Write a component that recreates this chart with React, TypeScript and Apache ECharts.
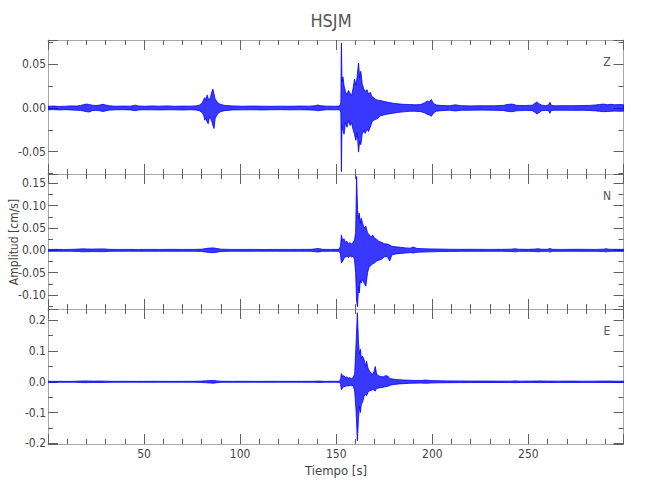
import React, { useEffect, useRef } from "react";
import * as echarts from "echarts";

// ---------- data ----------
const stationName = "HSJM";
const channels = ["Z", "N", "E"];
const timeRange = [0, 299.5]; // seconds
const zRange = [-0.0755, 0.0778]; // cm/s
const nRange = [-0.131, 0.1705];
const eRange = [-0.2025, 0.237];
const majorSteps = [0.05, 0.05, 0.1];
const labelDecimals = [2, 2, 1];

// envelope samples: [time s, upper cm/s, lower cm/s]
const zTrace: number[][] = [
  [0, 0.002, -0.002], [3, 0.0022, -0.0018], [6, 0.0018, -0.0022], [9, 0.0021, -0.0019],
  [12, 0.0024, -0.0022], [15, 0.0022, -0.0025], [17, 0.003, -0.0028], [18.5, 0.0038, -0.0035],
  [20, 0.0045, -0.0042], [21.5, 0.004, -0.0045], [23, 0.0032, -0.003], [25, 0.0028, -0.0027],
  [27, 0.0034, -0.0032], [28.5, 0.0042, -0.004], [30, 0.0035, -0.0033], [32, 0.0025, -0.0024],
  [35, 0.002, -0.0021], [39, 0.0022, -0.0019], [43, 0.0021, -0.0022], [45.5, 0.0032, -0.003],
  [47, 0.0024, -0.0023], [50, 0.002, -0.002], [54, 0.0023, -0.0021], [58, 0.0021, -0.0022],
  [62, 0.0024, -0.002], [66, 0.002, -0.0021], [70, 0.0022, -0.0023], [74, 0.0021, -0.002],
  [77, 0.0024, -0.0022], [79, 0.0035, -0.0033], [80.3, 0.006, -0.0055], [81, 0.0095, -0.008],
  [81.6, 0.012, -0.014], [82.2, 0.0085, -0.011], [82.8, 0.015, -0.016], [83.4, 0.011, -0.018],
  [84, 0.009, -0.01], [84.6, 0.013, -0.012], [85.2, 0.018, -0.015], [85.8, 0.0215, -0.02],
  [86.4, 0.016, -0.0235], [87, 0.01, -0.012], [87.7, 0.008, -0.009], [88.5, 0.0055, -0.006],
  [90, 0.004, -0.004], [92, 0.003, -0.003], [96, 0.0024, -0.0022], [101, 0.002, -0.0021],
  [106, 0.0022, -0.002], [111, 0.0021, -0.0022], [116, 0.0019, -0.002], [121, 0.0021, -0.0019],
  [126, 0.002, -0.0021], [131, 0.0022, -0.002], [136, 0.0021, -0.0022], [139, 0.0026, -0.0025],
  [140.5, 0.0034, -0.0032], [142, 0.0026, -0.0027], [145, 0.0021, -0.002], [149, 0.002, -0.0021],
  [151.8, 0.0022, -0.002], [152.4, 0.006, -0.005], [152.7, 0.0745, -0.0728], [153, 0.03, -0.02],
  [153.5, 0.0356, -0.0256], [154.1, 0.025, -0.03], [154.8, 0.019, -0.016], [155.6, 0.015, -0.022],
  [156.4, 0.02, -0.014], [157.2, 0.017, -0.02], [158, 0.014, -0.017], [158.8, 0.023, -0.025],
  [159.5, 0.033, -0.03], [160.2, 0.026, -0.037], [160.9, 0.036, -0.028], [161.6, 0.0515, -0.0505],
  [162.2, 0.035, -0.038], [162.8, 0.042, -0.042], [163.5, 0.028, -0.03], [164.3, 0.022, -0.026],
  [165.1, 0.019, -0.029], [166, 0.021, -0.024], [166.8, 0.016, -0.027], [167.7, 0.018, -0.022],
  [168.6, 0.013, -0.016], [169.5, 0.012, -0.014], [170.5, 0.01, -0.013], [171.5, 0.009, -0.012],
  [173, 0.0085, -0.009], [175, 0.0075, -0.0078], [177, 0.0065, -0.0068], [179.5, 0.0055, -0.006],
  [182, 0.0048, -0.005], [185, 0.0042, -0.0044], [188, 0.004, -0.0038], [191, 0.0036, -0.0037],
  [194, 0.004, -0.0042], [196, 0.006, -0.0055], [197.5, 0.008, -0.0075], [198.5, 0.007, -0.008],
  [199.5, 0.0098, -0.0094], [200.5, 0.0055, -0.006], [202, 0.0035, -0.0036], [205, 0.0028, -0.003],
  [209, 0.0026, -0.0025], [212, 0.0036, -0.0034], [215, 0.0027, -0.0026], [220, 0.0024, -0.0025],
  [226, 0.0026, -0.0024], [232, 0.0025, -0.0026], [237, 0.003, -0.0029], [239.5, 0.0042, -0.004],
  [241.5, 0.0045, -0.0042], [244, 0.003, -0.0032], [248, 0.0028, -0.0027], [252, 0.0032, -0.003],
  [253.5, 0.0055, -0.005], [254.5, 0.007, -0.0066], [255.5, 0.005, -0.0055], [257, 0.0032, -0.003],
  [259, 0.0026, -0.0028], [260.5, 0.0035, -0.003], [261.2, 0.0065, -0.006], [262, 0.003, -0.0028],
  [264, 0.0025, -0.0026], [268, 0.0027, -0.0025], [273, 0.0026, -0.0027], [278, 0.0028, -0.0026],
  [282, 0.003, -0.0029], [285, 0.0035, -0.0033], [287, 0.004, -0.0038], [289, 0.0045, -0.0042],
  [291, 0.0038, -0.004], [293, 0.0042, -0.0038], [295, 0.0036, -0.0035], [297, 0.004, -0.0038],
  [299.5, 0.0038, -0.0036],
];

const nTrace: number[][] = [
  [0, 0.002, -0.002], [4, 0.0022, -0.0019], [8, 0.0019, -0.0021], [12, 0.0021, -0.002],
  [16, 0.0028, -0.0026], [18, 0.0034, -0.0032], [20, 0.003, -0.003], [23, 0.0028, -0.0026],
  [26, 0.003, -0.0028], [29, 0.0032, -0.003], [32, 0.0022, -0.0021], [37, 0.002, -0.002],
  [42, 0.0021, -0.0019], [47, 0.0019, -0.0021], [52, 0.0021, -0.002], [58, 0.002, -0.0021],
  [64, 0.0022, -0.002], [70, 0.002, -0.0021], [76, 0.0021, -0.002], [80, 0.0026, -0.0025],
  [82, 0.004, -0.0038], [84, 0.005, -0.0048], [86, 0.0055, -0.0052], [88, 0.004, -0.004],
  [90, 0.0026, -0.0025], [95, 0.0021, -0.002], [101, 0.002, -0.0021], [107, 0.0021, -0.002],
  [113, 0.0019, -0.002], [119, 0.0021, -0.0019], [125, 0.002, -0.0021], [131, 0.0021, -0.002],
  [137, 0.0022, -0.0021], [140.5, 0.004, -0.0037], [143, 0.0022, -0.0021], [147, 0.002, -0.0021],
  [151.5, 0.0022, -0.0021], [152.2, 0.009, -0.008], [152.7, 0.0345, -0.028], [153.3, 0.022, -0.025],
  [154, 0.026, -0.018], [154.8, 0.018, -0.015], [155.6, 0.02, -0.013], [156.4, 0.015, -0.016],
  [157.2, 0.017, -0.012], [158, 0.014, -0.015], [158.8, 0.018, -0.013], [159.5, 0.022, -0.02],
  [160.1, 0.04, -0.05], [160.6, 0.165, -0.114], [161.1, 0.091, -0.126], [161.6, 0.07, -0.08],
  [162, 0.083, -0.095], [162.5, 0.06, -0.068], [163, 0.072, -0.073], [163.7, 0.061, -0.065],
  [164.5, 0.05, -0.073], [165.4, 0.054, -0.08], [166.3, 0.039, -0.05], [167.2, 0.035, -0.036],
  [168.1, 0.03, -0.034], [169, 0.034, -0.03], [169.9, 0.027, -0.028], [171, 0.025, -0.024],
  [172.2, 0.02, -0.022], [173.5, 0.018, -0.02], [175, 0.015, -0.015], [176.5, 0.014, -0.013],
  [177.8, 0.012, -0.024], [179, 0.009, -0.01], [181, 0.0078, -0.008], [183.5, 0.0068, -0.007],
  [186, 0.0055, -0.0058], [188.5, 0.0048, -0.005], [190.2, 0.0074, -0.006], [192, 0.0042, -0.0044],
  [195, 0.0037, -0.0038], [199, 0.0032, -0.0033], [204, 0.0028, -0.0027], [209, 0.0024, -0.0024],
  [215, 0.0022, -0.0023], [222, 0.0023, -0.0021], [229, 0.0021, -0.0022], [236, 0.0022, -0.0021],
  [241, 0.0025, -0.0024], [243, 0.0036, -0.0034], [245, 0.0024, -0.0023], [250, 0.0022, -0.0023],
  [253.5, 0.0028, -0.0026], [255, 0.0035, -0.0034], [257, 0.0024, -0.0023], [260, 0.0023, -0.0022],
  [261.2, 0.004, -0.0038], [262.5, 0.0022, -0.0023], [267, 0.0021, -0.0022], [273, 0.0023, -0.0021],
  [279, 0.0022, -0.0023], [285, 0.0021, -0.0022], [289, 0.0026, -0.0025], [290.5, 0.0036, -0.0034],
  [292, 0.0024, -0.0023], [296, 0.0022, -0.0021], [299.5, 0.0023, -0.0022],
];

const eTrace: number[][] = [
  [0, 0.0015, -0.0015], [5, 0.0016, -0.0014], [10, 0.0014, -0.0016], [14, 0.0016, -0.0015],
  [17, 0.0024, -0.0022], [19, 0.003, -0.0028], [21, 0.0026, -0.0025], [24, 0.0022, -0.002],
  [27, 0.0025, -0.0024], [30, 0.002, -0.0019], [34, 0.0015, -0.0016], [40, 0.0016, -0.0014],
  [46, 0.0014, -0.0015], [52, 0.0015, -0.0016], [58, 0.0016, -0.0014], [64, 0.0014, -0.0015],
  [70, 0.0015, -0.0014], [76, 0.0016, -0.0015], [80, 0.0022, -0.002], [82, 0.0032, -0.003],
  [84, 0.004, -0.0038], [86, 0.0042, -0.0045], [88, 0.003, -0.0028], [90, 0.0018, -0.0017],
  [96, 0.0015, -0.0016], [102, 0.0016, -0.0014], [108, 0.0014, -0.0015], [114, 0.0015, -0.0016],
  [120, 0.0016, -0.0015], [126, 0.0014, -0.0014], [132, 0.0015, -0.0016], [138, 0.0016, -0.0015],
  [141, 0.0024, -0.0022], [144, 0.0015, -0.0016], [149, 0.0016, -0.0015], [151.8, 0.0018, -0.0017],
  [152.3, 0.01, -0.009], [152.7, 0.027, -0.026], [153.3, 0.018, -0.02], [154, 0.02, -0.015],
  [154.8, 0.014, -0.016], [155.6, 0.016, -0.012], [156.4, 0.012, -0.014], [157.2, 0.013, -0.011],
  [158, 0.01, -0.013], [158.8, 0.014, -0.012], [159.6, 0.025, -0.03], [160.3, 0.121, -0.092],
  [161, 0.225, -0.192], [161.6, 0.126, -0.119], [162.1, 0.09, -0.08], [162.6, 0.106, -0.1],
  [163.1, 0.075, -0.07], [163.6, 0.084, -0.069], [164.5, 0.073, -0.047], [165.2, 0.05, -0.04],
  [165.8, 0.067, -0.045], [166.5, 0.045, -0.035], [167.2, 0.035, -0.03], [168.1, 0.03, -0.028],
  [168.9, 0.024, -0.025], [169.6, 0.032, -0.026], [170.3, 0.05, -0.03], [171, 0.025, -0.022],
  [172, 0.02, -0.02], [173.2, 0.017, -0.019], [174.4, 0.016, -0.018], [175.6, 0.02, -0.016],
  [176.8, 0.019, -0.015], [178, 0.01, -0.011], [180, 0.0085, -0.009], [182.5, 0.007, -0.007],
  [185, 0.0058, -0.006], [188, 0.005, -0.005], [191, 0.0045, -0.0044], [194, 0.0042, -0.004],
  [196.5, 0.0055, -0.005], [199, 0.004, -0.004], [203, 0.0034, -0.0032], [208, 0.003, -0.0029],
  [214, 0.0027, -0.0026], [220, 0.0024, -0.0025], [227, 0.0025, -0.0023], [234, 0.0022, -0.0023],
  [240, 0.0021, -0.0022], [243, 0.003, -0.0028], [246, 0.0021, -0.0022], [252, 0.0022, -0.0021],
  [256, 0.0028, -0.0026], [260, 0.0022, -0.0023], [266, 0.0021, -0.0022], [272, 0.0022, -0.0021],
  [278, 0.002, -0.0021], [284, 0.0021, -0.002], [290, 0.0026, -0.0024], [293, 0.0022, -0.0023],
  [297, 0.0021, -0.0022], [299.5, 0.0022, -0.0021],
];

// ---------- presentation ----------
const traces = [zTrace, nTrace, eTrace];
const ranges = [zRange, nRange, eRange];
const FONT = "'DejaVu Sans Condensed', 'Liberation Sans Narrow', sans-serif";
const BLUE = "#0000ff";
const FRAME = "#a8a8a8";
const TICK = "#606060";
const TEXT = "#444444";
const gridTops = [40, 174, 309];
const gridHeights = [134, 135, 135];
const gridLeft = 48;
const gridWidth = 575.5;

function envelopeRenderer(trace: number[][]) {
  return (params: any, api: any) => {
    if (params.dataIndex !== 0) return null;
    const upper = trace.map((r) => api.coord([r[0], r[1]]));
    const lower = trace.map((r) => api.coord([r[0], r[2]])).reverse();
    return {
      type: "polygon",
      shape: { points: upper.concat(lower) },
      style: { fill: BLUE, fillOpacity: 0.78, stroke: BLUE, lineWidth: 0.8, lineJoin: "miter" },
      silent: true,
    };
  };
}

function buildOption() {
  const grid: any[] = [];
  const xAxis: any[] = [];
  const yAxis: any[] = [];
  const series: any[] = [];

  channels.forEach((ch, i) => {
    grid.push({
      left: gridLeft,
      top: gridTops[i],
      width: gridWidth,
      height: gridHeights[i],
      outerBoundsMode: "none",
      containLabel: false,
    });

    ["bottom", "top"].forEach((pos) => {
      xAxis.push({
        gridIndex: i,
        type: "value",
        position: pos,
        min: timeRange[0],
        max: timeRange[1],
        interval: 50,
        axisLine: { show: true, onZero: false, lineStyle: { color: FRAME, width: 1 } },
        axisTick: { show: true, inside: true, length: 10, lineStyle: { color: TICK, width: 1 } },
        minorTick: { show: true, splitNumber: 5, length: 5, lineStyle: { color: TICK, width: 1 } },
        splitLine: { show: false },
        minorSplitLine: { show: false },
        axisLabel: {
          show: pos === "bottom" && i === channels.length - 1,
          showMinLabel: false,
          showMaxLabel: false,
          margin: 4,
          color: TEXT,
          fontSize: 12,
          fontFamily: FONT,
        },
      });
    });

    ["left", "right"].forEach((pos) => {
      yAxis.push({
        gridIndex: i,
        type: "value",
        position: pos,
        min: ranges[i][0],
        max: ranges[i][1],
        minInterval: majorSteps[i],
        maxInterval: majorSteps[i],
        axisLine: { show: true, onZero: false, lineStyle: { color: FRAME, width: 1 } },
        axisTick: { show: true, inside: true, length: 10, lineStyle: { color: TICK, width: 1 } },
        minorTick: { show: true, splitNumber: 2, length: 5, lineStyle: { color: TICK, width: 1 } },
        splitLine: { show: false },
        minorSplitLine: { show: false },
        axisLabel: {
          show: pos === "left",
          showMinLabel: false,
          showMaxLabel: false,
          margin: 2,
          color: TEXT,
          fontSize: 12,
          fontFamily: FONT,
          formatter: (v: number) => v.toFixed(labelDecimals[i]),
        },
      });
    });

    const tr = traces[i];
    series.push({
      type: "custom",
      xAxisIndex: i * 2,
      yAxisIndex: i * 2,
      coordinateSystem: "cartesian2d",
      data: tr.map((r) => [r[0], r[1], r[2]]),
      encode: { x: 0, y: [1, 2] },
      renderItem: envelopeRenderer(tr),
      clip: true,
      silent: true,
      z: 3,
    });
  });

  const graphic: any[] = [
    {
      type: "text",
      x: 331,
      y: 20,
      style: { text: stationName, fill: "#555555", fontSize: 18, fontFamily: FONT, align: "center", verticalAlign: "middle" },
    },
    ...channels.map((c, i) => ({
      type: "text",
      x: 607,
      y: gridTops[i] + 22,
      style: { text: c, fill: "#555555", fontSize: 12, fontFamily: FONT, align: "center", verticalAlign: "middle" },
    })),
    {
      type: "text",
      x: 14,
      y: 242,
      rotation: Math.PI / 2,
      style: { text: "Amplitud [cm/s]", fill: TEXT, fontSize: 12, fontFamily: FONT, align: "center", verticalAlign: "middle" },
    },
    {
      type: "text",
      x: 336,
      y: 470,
      style: { text: "Tiempo [s]", fill: TEXT, fontSize: 13, fontFamily: FONT, align: "center", verticalAlign: "middle" },
    },
  ];

  return {
    animation: false,
    backgroundColor: "#ffffff",
    grid,
    xAxis,
    yAxis,
    series,
    graphic,
  };
}

export default function App() {
  const ref = useRef<HTMLDivElement | null>(null);
  useEffect(() => {
    if (!ref.current) return;
    const chart = echarts.init(ref.current, undefined, { renderer: "svg" });
    chart.setOption(buildOption() as any);
    return () => chart.dispose();
  }, []);
  return (
    <div
      ref={ref}
      style={{ position: "fixed", left: 0, top: 0, width: 650, height: 500, background: "#fff" }}
    />
  );
}
